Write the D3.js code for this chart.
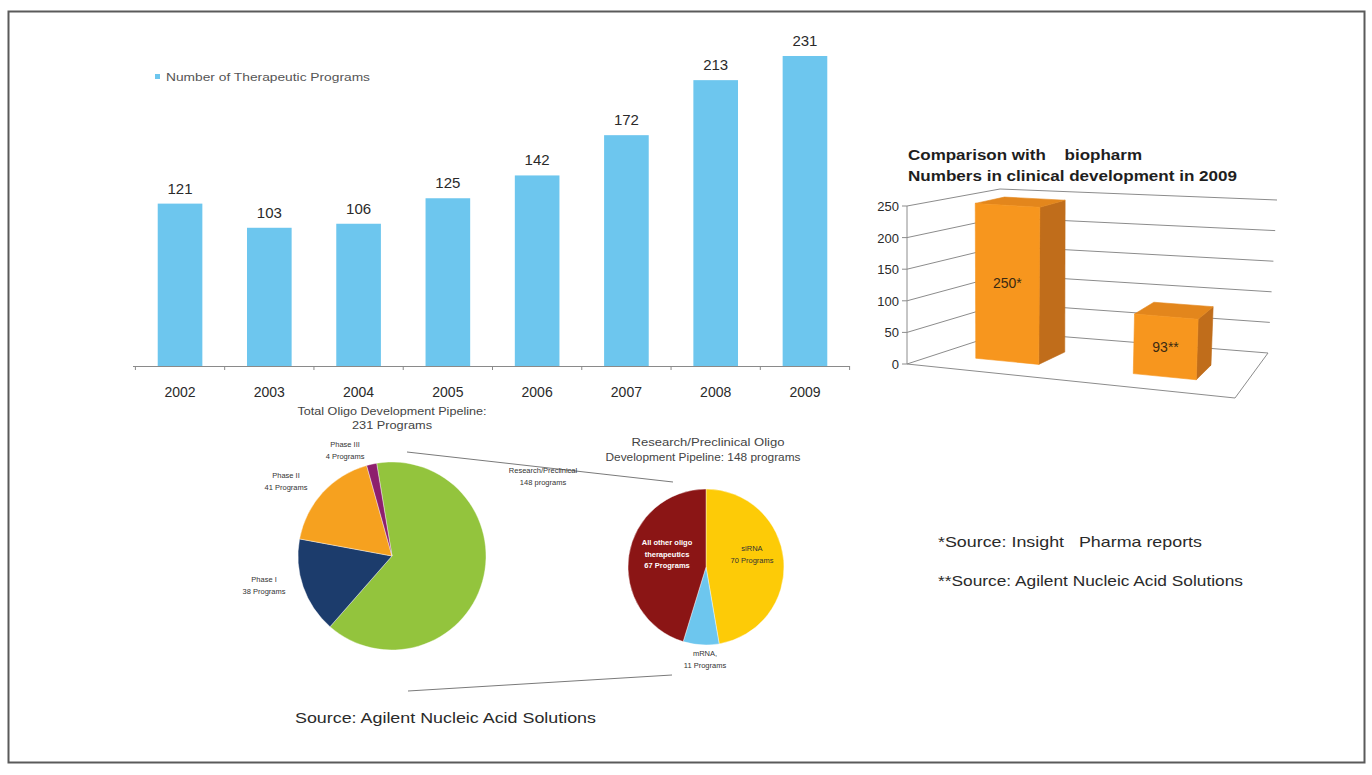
<!DOCTYPE html>
<html>
<head>
<meta charset="utf-8">
<script src="https://cdn.jsdelivr.net/npm/d3@7"></script>
<style>
  html, body { margin: 0; padding: 0; background: #fff; }
  svg { display: block; font-family: "Liberation Sans", Arial, sans-serif; }
</style>
</head>
<body>
<svg id="chart" width="1372" height="775"></svg>
<script>
// ---- data ----
const years = ["2002", "2003", "2004", "2005", "2006", "2007", "2008", "2009"];
const programs = [121, 103, 106, 125, 142, 172, 213, 231];
const legendLabel = "Number of Therapeutic Programs";

const compareCats = ["Biopharm", "Oligo"];
const compareValues = [250, 93];
const compareMarks = ["*", "**"];
const compareTicks = [0, 50, 100, 150, 200, 250];

const stages = ["Research/Preclinical", "Phase I", "Phase II", "Phase III"];
const stageCounts = [148, 38, 41, 4];
const stageNotes = ["148 programs", "38 Programs", "41 Programs", "4 Programs"];

const classes = ["siRNA", "mRNA", "All other oligo therapeutics"];
const classCounts = [70, 11, 67];
const classLines = [["siRNA", "70 Programs"], ["mRNA,", "11 Programs"], ["All other oligo", "therapeutics", "67 Programs"]];

const svg = d3.select("#chart");

// fixed-width text helper (the source deck used a wide face)
function wideText(sel, len) {
  return sel.attr("textLength", len).attr("lengthAdjust", "spacingAndGlyphs");
}

// frame
svg.append("rect").attr("x", 8.5).attr("y", 11.5).attr("width", 1356).attr("height", 751)
  .attr("fill", "none").attr("stroke", "#5a5a5a").attr("stroke-width", 2);

// ---- column chart: therapeutic programs per year ----
const x = d3.scaleBand().domain(years).range([135.4, 849.6]).paddingInner(0.5).paddingOuter(0.25);
const y = d3.scaleLinear().domain([0, 250]).range([366, 30.5]);
const barG = svg.append("g");

barG.selectAll("rect.bar").data(programs).join("rect")
  .attr("class", "bar")
  .attr("x", (d, i) => x(years[i]))
  .attr("y", d => y(d))
  .attr("width", x.bandwidth())
  .attr("height", d => y(0) - y(d))
  .attr("fill", "#6dc6ee");

barG.selectAll("text.val").data(programs).join("text")
  .attr("class", "val")
  .attr("x", (d, i) => x(years[i]) + x.bandwidth() / 2)
  .attr("y", d => y(d) - 10)
  .attr("text-anchor", "middle")
  .attr("font-size", 15).attr("fill", "#2a2a2a")
  .text(d => d);

// category axis with ticks between columns
const xAxis = barG.append("g").attr("transform", `translate(0,${y(0)})`);
xAxis.append("line").attr("x1", 133).attr("x2", 850).attr("y1", 0.5).attr("y2", 0.5)
  .attr("stroke", "#8a8a8a").attr("stroke-width", 1);
const half = x.step() / 2;
const edges = years.map(d => x(d) + x.bandwidth() / 2 - half).concat([x(years[years.length - 1]) + x.bandwidth() / 2 + half]);
xAxis.selectAll("line.tk").data(edges).join("line").attr("class", "tk")
  .attr("x1", d => d).attr("x2", d => d).attr("y1", 0).attr("y2", 4)
  .attr("stroke", "#8a8a8a");
xAxis.selectAll("text").data(years).join("text")
  .attr("x", d => x(d) + x.bandwidth() / 2).attr("y", 31)
  .attr("text-anchor", "middle").attr("font-size", 14).attr("fill", "#2a2a2a")
  .text(d => d);

// legend
barG.append("rect").attr("x", 155).attr("y", 74).attr("width", 5).attr("height", 5).attr("fill", "#6dc6ee");
wideText(barG.append("text").attr("x", 166).attr("y", 81).attr("font-size", 10.5).attr("fill", "#555"), 204)
  .text(legendLabel);

// ---- 3D comparison chart ----
const box = {
  P000: [907, 364], P010: [907, 206], P001: [1005, 332], P011: [1000, 189],
  P100: [1235, 398], P110: [1240, 229], P101: [1268, 353], P111: [1277, 200]
};
const lerp = (a, b, t) => [a[0] + (b[0] - a[0]) * t, a[1] + (b[1] - a[1]) * t];
function proj(u, h, w) {
  const c0 = lerp(lerp(box.P000, box.P100, u), lerp(box.P010, box.P110, u), h);
  const c1 = lerp(lerp(box.P001, box.P101, u), lerp(box.P011, box.P111, u), h);
  return lerp(c0, c1, w);
}
const hz = d3.scaleLinear().domain([0, 250]).range([0, 1]);
const uz = d3.scaleBand().domain(compareCats).range([0, 0.97]).paddingInner(0.6).paddingOuter(0.25);
const line = d3.line();
const g3 = svg.append("g");
const gridColor = "#8c8c8c";

// walls: left wall and back wall gridlines
compareTicks.forEach(t => {
  const h = hz(t);
  g3.append("path").attr("d", line([proj(0, h, 0), proj(0, h, 1), proj(1, h, 1)]))
    .attr("fill", "none").attr("stroke", gridColor).attr("stroke-width", 1);
  g3.append("line").attr("x1", proj(0, h, 0)[0] - 5).attr("x2", proj(0, h, 0)[0])
    .attr("y1", proj(0, h, 0)[1]).attr("y2", proj(0, h, 0)[1]).attr("stroke", gridColor);
  g3.append("text").attr("x", proj(0, h, 0)[0] - 8).attr("y", proj(0, h, 0)[1] + 5)
    .attr("text-anchor", "end").attr("font-size", 13).attr("fill", "#2a2a2a").text(t);
});
// vertical axis and floor outline
g3.append("path").attr("d", line([proj(0, 0, 0), proj(0, 1, 0)])).attr("stroke", gridColor).attr("fill", "none");
g3.append("path").attr("d", line([proj(0, 0, 0), proj(1, 0, 0), proj(1, 0, 1)]))
  .attr("fill", "none").attr("stroke", gridColor);

// bars as boxes
const w0 = 0.3, w1 = 0.64;
compareValues.forEach((v, i) => {
  const u0 = uz(compareCats[i]), u1 = u0 + uz.bandwidth(), h = hz(v);
  const bg = g3.append("g");
  const face = (pts, fill) => bg.append("path").attr("d", line(pts) + "Z").attr("fill", fill)
    .attr("stroke", fill).attr("stroke-width", 0.6).attr("stroke-linejoin", "round");
  face([proj(u1, 0, w0), proj(u1, 0, w1), proj(u1, h, w1), proj(u1, h, w0)], "#c06d1b");
  face([proj(u0, h, w0), proj(u1, h, w0), proj(u1, h, w1), proj(u0, h, w1)], "#e3861c");
  face([proj(u0, 0, w0), proj(u1, 0, w0), proj(u1, h, w0), proj(u0, h, w0)], "#f7961e");
  const c = proj((u0 + u1) / 2, h / 2, w0);
  bg.append("text").attr("x", c[0]).attr("y", c[1] + 5).attr("text-anchor", "middle")
    .attr("font-size", 14).attr("fill", "#3b2a12").text(v + compareMarks[i]);
});

// title
const t3 = svg.append("text").attr("font-size", 14.5).attr("font-weight", "bold").attr("fill", "#1e1e1e");
wideText(t3.append("tspan").attr("x", 908).attr("y", 160).attr("xml:space", "preserve"), 234)
  .text("Comparison with    biopharm");
wideText(t3.append("tspan").attr("x", 908).attr("y", 181), 329)
  .text("Numbers in clinical development in 2009");

// footnotes
wideText(svg.append("text").attr("x", 938).attr("y", 547).attr("font-size", 14.5).attr("fill", "#2a2a2a")
  .attr("xml:space", "preserve"), 264).text("*Source: Insight   Pharma reports");
wideText(svg.append("text").attr("x", 938).attr("y", 586).attr("font-size", 14.5).attr("fill", "#2a2a2a"), 305)
  .text("**Source: Agilent Nucleic Acid Solutions");
wideText(svg.append("text").attr("x", 295).attr("y", 723).attr("font-size", 15).attr("fill", "#2a2a2a"), 301)
  .text("Source: Agilent Nucleic Acid Solutions");

// ---- pie charts ----
const pieColors1 = ["#93c43d", "#1c3c6c", "#f6a11f", "#8d1f6d"];
const pieColors2 = ["#fdcb07", "#6dc6ee", "#8b1515"];
const deg = Math.PI / 180;

const c1 = [392, 556], r1 = 94;
const c2 = [706, 567], r2 = 78;

// connector lines from the research slice to its breakdown
svg.append("line").attr("x1", c1[0] + 15).attr("y1", c1[1] - 104).attr("x2", c2[0] - 33).attr("y2", c2[1] - 85)
  .attr("stroke", "#7a7a7a").attr("stroke-width", 1);
svg.append("line").attr("x1", c1[0] + 16).attr("y1", c1[1] + 135).attr("x2", c2[0] - 34).attr("y2", c2[1] + 108)
  .attr("stroke", "#7a7a7a").attr("stroke-width", 1);

const pie1 = d3.pie().sort(null).startAngle(-9.4 * deg).endAngle(350.6 * deg)(stageCounts);
const arc1 = d3.arc().innerRadius(0).outerRadius(r1);
const p1 = svg.append("g").attr("transform", `translate(${c1})`);
p1.selectAll("path").data(pie1).join("path").attr("d", arc1)
  .attr("fill", (d, i) => pieColors1[i]).attr("stroke", "#fff").attr("stroke-width", 0.4);

// labels beside the slices
const lab1 = [[151, -83], [-128, 26], [-106, -78], [-47, -109]];
stages.forEach((s, i) => {
  const t = p1.append("text").attr("text-anchor", "middle").attr("font-size", 7.5).attr("fill", "#333");
  t.append("tspan").attr("x", lab1[i][0]).attr("y", lab1[i][1]).text(s);
  t.append("tspan").attr("x", lab1[i][0]).attr("y", lab1[i][1] + 12).text(stageNotes[i]);
});
const title1 = svg.append("text").attr("text-anchor", "middle").attr("font-size", 11).attr("fill", "#444");
wideText(title1.append("tspan").attr("x", 392).attr("y", 415), 189).text("Total Oligo Development Pipeline:");
wideText(title1.append("tspan").attr("x", 392).attr("y", 429), 80).text(d3.sum(stageCounts) + " Programs");

const pie2 = d3.pie().sort(null)(classCounts);
const arc2 = d3.arc().innerRadius(0).outerRadius(r2);
const p2 = svg.append("g").attr("transform", `translate(${c2})`);
p2.selectAll("path").data(pie2).join("path").attr("d", arc2)
  .attr("fill", (d, i) => pieColors2[i]).attr("stroke", "#fff").attr("stroke-width", 0.4);

const lab2 = [[46, -16], [-1, 89], [-39, -22]];
classLines.forEach((lines, i) => {
  const inside = i === 2;
  const t = p2.append("text").attr("text-anchor", "middle").attr("font-size", 7.5)
    .attr("fill", inside ? "#fff" : "#333").attr("font-weight", inside ? "bold" : "normal");
  lines.forEach((l, k) => t.append("tspan").attr("x", lab2[i][0]).attr("y", lab2[i][1] + k * 11.5).text(l));
});
const title2 = svg.append("text").attr("text-anchor", "middle").attr("font-size", 11).attr("fill", "#444");
wideText(title2.append("tspan").attr("x", 708).attr("y", 446), 153).text("Research/Preclinical Oligo");
wideText(title2.append("tspan").attr("x", 703).attr("y", 461), 195).text("Development Pipeline: " + d3.sum(classCounts) + " programs");
</script>
</body>
</html>
